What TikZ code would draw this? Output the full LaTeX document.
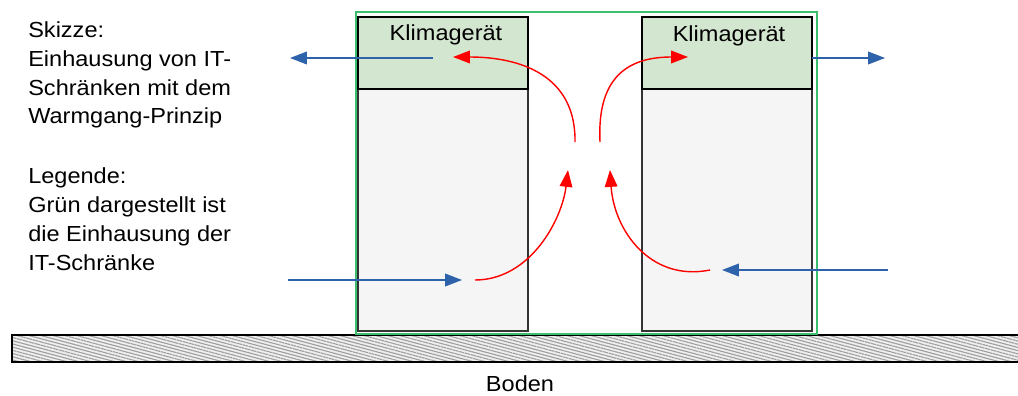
\documentclass[tikz,border=0pt]{standalone}
\usepackage{fontspec}
\setmainfont[FakeStretch=1.08]{Liberation Sans}
\usepackage{tikz}
\usetikzlibrary{arrows.meta,patterns.meta}
\definecolor{luftblau}{HTML}{2E62AA}
\definecolor{gehaeuse}{HTML}{3DBE6E}
\definecolor{klimagruen}{HTML}{D3E6CF}
\definecolor{schrankgrau}{HTML}{F5F5F5}
\definecolor{rahmen}{HTML}{333333}

\begin{document}
\begin{tikzpicture}[x=0.025cm,y=-0.025cm,
    font=\fontsize{15.5}{20.6}\selectfont,
    kalt/.style={-{Triangle[length=12pt,width=9pt]},line width=1pt,luftblau},
    warm/.style={-{Triangle[length=12pt,width=9pt]},line width=1pt,red},
    schrank/.style={draw=rahmen,line width=1pt,fill=schrankgrau},
    klima/.style={draw=black,line width=1pt,fill=klimagruen}]
  \useasboundingbox (0,0) rectangle (1018,395);
  % Boden
  \fill[gray!12] (12,335) rectangle (1018,362);
  \fill[pattern={Lines[angle=-15,distance=2.2pt,line width=0.8pt]},pattern color=gray!75]
    (12,335) rectangle (1018,362);
  \draw[line width=1.3pt] (1018,335) -- (12,335) -- (12,362) -- (1018,362);
  \node[anchor=base] (boden) at (520,391) {Boden};
  % Einhausung
  \draw[gehaeuse,line width=1.2pt] (356,12) rectangle (817,334);
  % Schraenke mit Klimageraet
  \draw[schrank] (358,89) rectangle (528,331);
  \draw[klima] (358,17) rectangle (528,89);
  \draw[schrank] (642,89) rectangle (812,331);
  \draw[klima] (642,17) rectangle (812,89);
  \node[anchor=base] (klima1) at (446,40) {Klimagerät};
  \node[anchor=base] (klima2) at (729,41) {Klimagerät};
  % Beschreibung
  \node[anchor=north west,align=left,inner sep=0pt] (skizze) at (28,21)
    {Skizze:\\Einhausung von IT-\\Schränken mit dem\\Warmgang-Prinzip\\[22pt]
     Legende:\\Grün dargestellt ist\\die Einhausung der\\IT-Schränke};
  % Kaltluft
  \coordinate (ein1) at (288,280);
  \coordinate (ein1e) at (462,280);
  \coordinate (ein2) at (888,270);
  \coordinate (ein2e) at (722,270);
  \coordinate (aus1) at (433,58);
  \coordinate (aus1e) at (290,58);
  \coordinate (aus2) at (812,58);
  \coordinate (aus2e) at (885,58);
  \draw[kalt] (ein1) -- (ein1e);
  \draw[kalt] (ein2) -- (ein2e);
  \draw[kalt] (aus1) -- (aus1e);
  \draw[kalt] (aus2) -- (aus2e);
  % Warmluft
  \draw[warm] (475,280) .. controls (530,280) and (562,220) .. (568,170);
  \draw[warm] (710,270) .. controls (650,282) and (614,230) .. (610,170);
  \draw[warm] (575,142) .. controls (576,75) and (520,57) .. (453,57);
  \draw[warm] (600,142) .. controls (597,80) and (625,57) .. (688,57);
\end{tikzpicture}
\end{document}
